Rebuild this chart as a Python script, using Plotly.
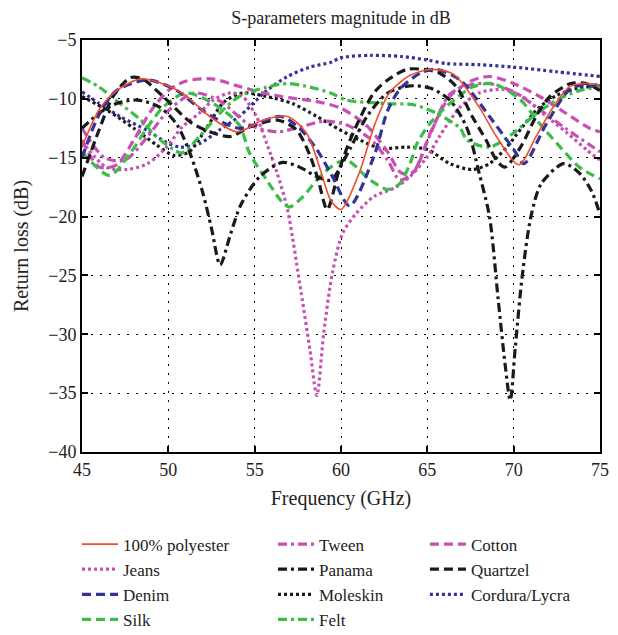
import plotly.graph_objects as go

# ---------------- data ----------------
poly_f = [45, 46, 47, 48.4, 50, 51, 52.4, 54, 55.5, 56.9, 58, 58.8, 59.4, 60, 61, 62, 62.8, 64, 65.2, 66.5, 68, 69, 70.3, 71.3, 72.2, 73.2, 74, 75]
poly_v = [-14.1, -10.9, -9.3, -8.3, -8.9, -9.7, -11.5, -12.8, -11.8, -11.5, -12.9, -16, -18.6, -19.4, -16.5, -12, -9.5, -8.0, -7.5, -7.9, -10.7, -13.2, -15.6, -13.2, -10.9, -9, -8.7, -8.8]

jeans_f = [45, 46.4, 47.6, 48.8, 49.9, 50.8, 51.8, 52.6, 53.6, 54.3, 55.1, 55.7, 56.3, 56.9, 57.6, 58.2, 58.6, 59.0, 59.5, 60.1, 60.9, 61.9, 63.2, 64, 65, 65.7, 66.9, 68, 69.4, 70.5, 71.9, 73.1, 74.2, 75]
jeans_v = [-13.6, -15.8, -16, -15.5, -14.1, -12.4, -11.2, -10.1, -9.5, -9.8, -11.5, -13.8, -16.3, -19.4, -25.6, -31.3, -35.2, -29.9, -24.8, -21.4, -19.7, -18.3, -17.5, -16.6, -14.9, -13.2, -10.7, -9.5, -9.2, -9.8, -11.5, -12.9, -14.3, -15.2]

denim_f = [45, 46, 47, 48.8, 50.5, 52, 54.1, 56.5, 57.6, 58.6, 59.5, 60.5, 61.9, 62.7, 63.4, 64.6, 65.5, 66.9, 68.6, 70, 70.6, 71.9, 73.4, 74.6, 75]
denim_v = [-15, -11.3, -9.3, -8.4, -9.3, -11, -12.5, -11.5, -12.5, -14.3, -16.6, -19.1, -14.9, -11, -9.2, -7.8, -7.5, -8.4, -11.5, -14.3, -15.5, -12.1, -9, -8.9, -8.6]

silk_f = [45, 46.6, 47.8, 48.8, 49.7, 51, 52.5, 54.1, 54.7, 55.7, 56.5, 57, 57.8, 58.6, 59.4, 60.3, 61.7, 62.7, 63.4, 64, 64.4, 65.2, 66.3, 67.6, 68.8, 70.4, 71.5, 72.7, 73.8, 75]
silk_v = [-14.5, -16.5, -14.6, -12.4, -10.7, -9.5, -10.3, -12.2, -14.6, -16.9, -18.6, -19.2, -18.3, -16.9, -15.8, -15.2, -16.9, -17.7, -17.2, -15.5, -13.8, -12, -10.4, -9, -8.7, -10.1, -12.1, -14.1, -15.8, -16.8]

tween_f = [45, 46.3, 47.5, 48.8, 50, 51.5, 53, 54.7, 56.3, 57.6, 59, 60.3, 61.7, 62.7, 63.4, 64.2, 65.2, 66.3, 67.5, 68.6, 70, 71.5, 73, 75]
tween_v = [-12.5, -15.0, -15.2, -13.2, -11.0, -9.5, -10.2, -12.2, -12.8, -12.4, -11.9, -12.2, -13.4, -15.2, -16.9, -16.2, -12.9, -9.6, -8.8, -8.7, -9.4, -10.9, -12.5, -14.5]

panama_f = [45, 46, 47, 48.2, 49.5, 50.5, 51.3, 52, 52.5, 53, 53.6, 54.2, 55.3, 56.6, 57.6, 58.6, 59.4, 60.5, 61.5, 62.7, 64, 65.2, 66.3, 67.3, 68, 68.6, 69.1, 69.5, 69.8, 70.1, 70.5, 71, 71.6, 72.9, 73.8, 74.5, 75]
panama_v = [-12.5, -11.2, -10.4, -10.1, -10.7, -12.2, -14.8, -18, -21, -24.1, -21.5, -19, -16.6, -15.4, -15.8, -16.6, -16.9, -14.3, -11.5, -9.5, -8.9, -9.1, -10.1, -12.5, -16.3, -20, -27, -32.5, -35.6, -31, -25, -20, -17.2, -15.5, -16.3, -17.8, -19.8]

moleskin_f = [45, 46.5, 48, 49.3, 50.3, 51.2, 52.2, 53.2, 54.3, 55.7, 57.2, 58.6, 59.9, 61.1, 62.3, 63.8, 65, 66.3, 67.6, 68.6, 69.6, 70.5, 71.5, 72.5, 73.7, 75]
moleskin_v = [-9.8, -11, -12.5, -13.9, -14.8, -14.5, -12.5, -10.3, -9.5, -9.8, -10.4, -11.5, -12.6, -13.5, -14.2, -14.1, -14.3, -15.5, -16, -15.5, -14.1, -12.4, -10.7, -9.7, -9.1, -8.9]

felt_f = [45, 46, 47.2, 48.4, 49.3, 50.3, 50.8, 51.8, 53, 54.1, 55.7, 56.9, 58.2, 59.4, 60.3, 62.7, 64.2, 65.5, 66.9, 67.3, 68.6, 70, 71.1, 72.5, 73.8, 75]
felt_v = [-8.2, -9, -10.4, -11.8, -13.2, -14.3, -14.6, -13.2, -11.2, -9.8, -9, -8.7, -9, -9.5, -10.1, -10.4, -10.5, -11.2, -12.5, -13.5, -14.1, -12.9, -11.5, -10.1, -9.3, -9]

cotton_f = [45, 46, 47, 48, 49, 50, 51, 52.5, 54, 55.5, 57, 58.5, 60, 61.5, 62.7, 63.5, 64.2, 65.2, 66.3, 67.5, 68.6, 70, 71.5, 73, 74.4, 75]
cotton_v = [-13.5, -15.8, -15.6, -13.5, -11, -9.3, -8.5, -8.3, -8.9, -9.5, -9.9, -10.2, -10.8, -12.3, -14.5, -16.3, -16.2, -12.8, -9.8, -8.5, -8.1, -8.7, -9.8, -11.2, -12.5, -12.8]

quartzel_f = [45, 46, 46.8, 47.8, 48.5, 49.7, 51.3, 52.4, 53.6, 54.7, 56.3, 57.4, 58.2, 58.7, 59.2, 59.9, 60.7, 61.9, 62.7, 63.8, 64.8, 65.7, 66.7, 67.6, 68.4, 69, 69.5, 70.4, 71.3, 72.1, 73.3, 74.2, 75]
quartzel_v = [-16.6, -12.6, -9.8, -8.2, -8.3, -9.8, -12, -12.8, -13.2, -12.4, -11.8, -12.6, -14.8, -17, -19.4, -16, -12.9, -9.5, -8.4, -7.5, -7.5, -7.8, -9, -11.5, -13.5, -15.2, -15.8, -14.1, -11.5, -9.8, -8.7, -8.7, -9.3]

cordura_f = [45, 46, 47.2, 48.8, 49.9, 50.7, 51.8, 53, 54.1, 55.7, 56.9, 58.2, 59.4, 60, 61.7, 63.5, 65, 66.1, 68, 70, 72.5, 75]
cordura_v = [-9.4, -10.4, -11.5, -12.7, -13.7, -14.1, -13.8, -12.6, -11.5, -9.3, -8.1, -7.3, -6.9, -6.5, -6.3, -6.4, -6.7, -7.0, -7.1, -7.3, -7.7, -8.1]

x_ticks = [45, 50, 55, 60, 65, 70, 75]
y_ticks = [-5, -10, -15, -20, -25, -30, -35, -40]
y_labels = ["\u22125", "\u221210", "\u221215", "\u221220", "\u221225", "\u221230", "\u221235", "\u221240"]

# ---------------- styling ----------------
RED = "#f04e2c"
MAG = "#c850b4"
BLK = "#1a1a1a"
BLU = "#33339a"
GRN = "#3cbc48"

DASH = "9px,5px"
DOT = "3px,3px"
DASHDOT = "9px,4px,3px,4px"

series = [
    # name, f, v, color, dash, width, legend column, rank within column
    ("100% polyester", poly_f, poly_v, RED, "solid", 1.6, "legend", 1),
    ("Jeans", jeans_f, jeans_v, MAG, DOT, 3.2, "legend", 2),
    ("Denim", denim_f, denim_v, BLU, DASH, 3.2, "legend", 3),
    ("Silk", silk_f, silk_v, GRN, DASH, 3.2, "legend", 4),
    ("Tween", tween_f, tween_v, MAG, DASHDOT, 3.2, "legend2", 1),
    ("Panama", panama_f, panama_v, BLK, DASHDOT, 3.2, "legend2", 2),
    ("Moleskin", moleskin_f, moleskin_v, BLK, DOT, 3.2, "legend2", 3),
    ("Felt", felt_f, felt_v, GRN, DASHDOT, 3.2, "legend2", 4),
    ("Cotton", cotton_f, cotton_v, MAG, DASH, 3.2, "legend3", 1),
    ("Quartzel", quartzel_f, quartzel_v, BLK, DASH, 3.2, "legend3", 2),
    ("Cordura/Lycra", cordura_f, cordura_v, BLU, DOT, 3.2, "legend3", 3),
]

FONT = "Liberation Serif"
TXT = "#222"

fig = go.Figure()
draw_order = ["Cordura/Lycra", "Moleskin", "Cotton", "Tween", "Jeans", "Felt", "Silk",
              "Panama", "Quartzel", "Denim", "100% polyester"]
lookup = {s[0]: s for s in series}
for nm in draw_order:
    name, f, v, col, dash, w, leg, rank = lookup[nm]
    fig.add_trace(go.Scatter(
        x=f, y=v, name=name, mode="lines",
        line=dict(color=col, dash=dash, width=w, shape="spline", smoothing=0.8),
        legend=leg, legendrank=rank,
    ))

axis_common = dict(
    showline=True, linecolor="black", linewidth=2, mirror="ticks",
    ticks="inside", ticklen=6, tickwidth=2, tickcolor="black",
    showgrid=True, gridcolor="black", gridwidth=1.2, griddash="2px,7px",
    zeroline=False, automargin=False,
    tickfont=dict(family=FONT, size=18, color=TXT),
)

leg_common = dict(orientation="v", xanchor="left", y=-0.181, yanchor="top",
                  font=dict(family=FONT, size=17, color=TXT),
                  itemwidth=36, tracegroupgap=0, bgcolor="rgba(0,0,0,0)")

# the page body has an 8 px margin, so the figure is drawn 8 px smaller
fig.update_layout(
    width=610, height=627,
    margin=dict(l=74, r=18, t=32, b=183, autoexpand=False),
    paper_bgcolor="white", plot_bgcolor="white",
    title=dict(text="S-parameters magnitude in dB", x=0.5, xref="paper", xanchor="center",
               y=0.984, yanchor="middle",
               font=dict(family=FONT, size=18, color=TXT)),
    xaxis=dict(range=[45, 75], tickvals=x_ticks, ticktext=[str(t) for t in x_ticks],
               title=dict(text="Frequency (GHz)", font=dict(family=FONT, size=20, color=TXT), standoff=12),
               **axis_common),
    yaxis=dict(range=[-40, -5], tickvals=y_ticks, ticktext=y_labels,
               title=dict(text="Return loss (dB)", font=dict(family=FONT, size=20, color=TXT), standoff=14),
               **axis_common),
    legend=dict(x=-0.0097, **leg_common),
    legend2=dict(x=0.3687, **leg_common),
    legend3=dict(x=0.662, **leg_common),
    showlegend=True,
)

fig.write_html("out.html")
